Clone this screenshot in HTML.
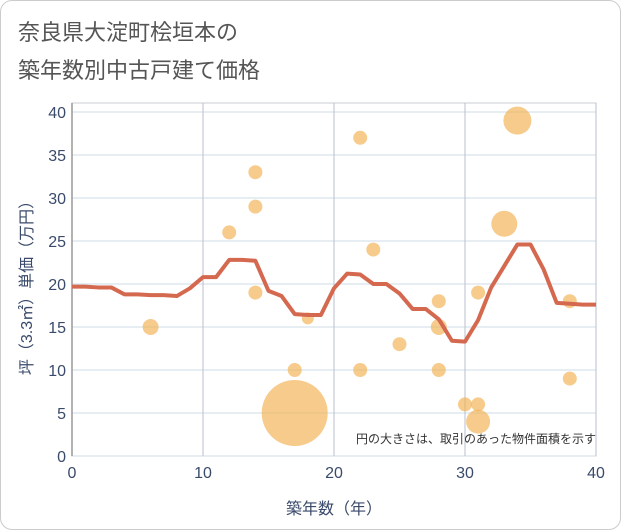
<!DOCTYPE html>
<html><head><meta charset="utf-8"><style>
body{margin:0;background:#fff;font-family:"Liberation Sans","Noto Sans CJK JP",sans-serif}
#wrap{position:relative;width:619px;height:528px;border:1px solid #ccc;border-radius:12px;overflow:hidden;background:#fff}
</style></head><body>
<div id="wrap">
<svg id="svg" width="621" height="530" style="position:absolute;left:-1px;top:-1px">
<text x="18" y="40" font-size="22" fill="#555" font-family="Liberation Sans, Noto Sans CJK JP, sans-serif">奈良県大淀町桧垣本の</text>
<text x="18" y="78" font-size="22" fill="#555" font-family="Liberation Sans, Noto Sans CJK JP, sans-serif">築年数別中古戸建て価格</text>
<g id="grid"></g><g id="bubbles"></g><g id="line"></g><g id="axes"></g>
<text x="596" y="443" font-size="12" fill="#333" text-anchor="end" font-family="Liberation Sans, Noto Sans CJK JP, sans-serif">円の大きさは、取引のあった物件面積を示す</text>
<text x="334" y="514" font-size="16" fill="#3a4a6b" text-anchor="middle" font-family="Liberation Sans, Noto Sans CJK JP, sans-serif">築年数（年）</text>
<text transform="translate(32,284) rotate(-90)" font-size="16" fill="#3a4a6b" text-anchor="middle" font-family="Liberation Sans, Noto Sans CJK JP, sans-serif">坪（3.3㎡）単価（万円）</text>
</svg></div>
<script>
const xTicks=[0,10,20,30,40];
const yTicks=[0,5,10,15,20,25,30,35,40];
const lineX=[0,1,2,3,4,5,6,7,8,9,10,11,12,13,14,15,16,17,18,19,20,21,22,23,24,25,26,27,28,29,30,31,32,33,34,35,36,37,38,39,40];
const lineY=[19.7,19.7,19.6,19.6,18.8,18.8,18.7,18.7,18.6,19.5,20.8,20.8,22.8,22.8,22.7,19.2,18.6,16.5,16.4,16.4,19.5,21.2,21.1,20.0,20.0,18.9,17.1,17.1,15.9,13.4,13.3,15.8,19.6,22.1,24.6,24.6,21.7,17.8,17.7,17.6,17.6];
const bubX=[6,12,14,14,14,17,17,18,22,22,23,25,28,28,28,30,31,31,31,33,34,38,38];
const bubY=[15,26,33,29,19,10,5,16,37,10,24,13,18,15,10,6,19,6,4,27,39,18,9];
const bubR=[8,7,7,7,7,7,33,6,7,7,7,7,7,8,7,7,7,7,12,13,14,7,7];
const X0=72,X1=596,Y0=456,Y1=112;
const sx=v=>X0+(X1-X0)*v/40, sy=v=>Y0-(Y0-Y1)*v/40;
const NS="http://www.w3.org/2000/svg";
function mk(tag,at,par){const e=document.createElementNS(NS,tag);for(const k in at)e.setAttribute(k,at[k]);document.getElementById(par).appendChild(e);return e;}
let r=mk('rect',{x:X0,y:Y1-9,width:X1-X0,height:Y0-Y1+9,fill:'none',stroke:'#c8cdd6'},'grid');


yTicks.forEach(t=>{let l=mk('line',{x1:X0,x2:X1,y1:sy(t),y2:sy(t),stroke:'#d6e3ec','stroke-width':1.3},'grid');


let tx=mk('text',{x:X0-6,y:sy(t)+6,'font-size':16,fill:'#3a4a6b','text-anchor':'end'},'axes');tx.textContent=t;

});
xTicks.forEach(t=>{let l=mk('line',{x1:sx(t),x2:sx(t),y1:Y1-9,y2:Y0,stroke:t===0?'#999':'#b8c0cc','stroke-width':t===0?1.5:1},'grid');


let tx=mk('text',{x:sx(t),y:Y0+22,'font-size':16,fill:'#3a4a6b','text-anchor':'middle'},'axes');tx.textContent=t;

});
bubX.forEach((v,i)=>{let c=mk('circle',{cx:sx(v),cy:sy(bubY[i]),r:bubR[i],fill:'rgba(242,178,85,0.68)'},'bubbles');

});
let p=mk('polyline',{points:lineX.map((v,i)=>sx(v)+','+sy(lineY[i])).join(' '),fill:'none',stroke:'#d4694f','stroke-width':4,'stroke-linejoin':'round'},'line');


</script></body></html>
